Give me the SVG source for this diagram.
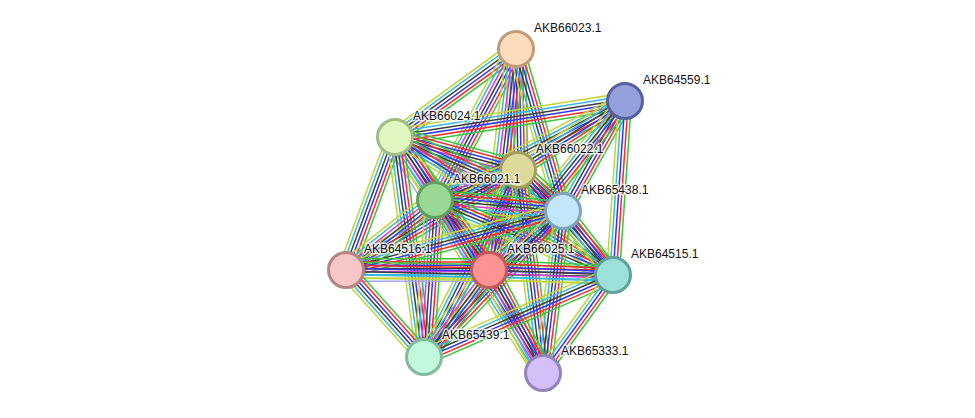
<svg xmlns="http://www.w3.org/2000/svg" xmlns:xlink="http://www.w3.org/1999/xlink" width="975" height="418" viewBox="0 0 975 418">
  <style>
    .e line { stroke-width: 1.5; fill: none; }
    .gr { stroke: #3cc43c; }
    .rd { stroke: #f52a2a; }
    .bl { stroke: #3434f5; }
    .bk { stroke: #3e3e3e; }
    .mg { stroke: #d23cd2; }
    .cy { stroke: #38b6e2; }
    .yg { stroke: #c0d636; }
    .lv { stroke: #a6a6f6; }
    .node circle { stroke-width: 3; }
    .node text { font-family: "Liberation Sans", Arial, sans-serif; font-size: 12px; fill: #111; stroke: #fff; stroke-width: 3; stroke-opacity: 0.75; paint-order: stroke; stroke-linejoin: round; }
  </style>
  <defs>
    <!-- unit-length evidence bundles, stretched along each edge -->
    <g id="b5" class="e">
      <line class="gr" x1="0" y1="-6.4" x2="1" y2="-6.4"/>
      <line class="rd" x1="0" y1="-3.2" x2="1" y2="-3.2"/>
      <line class="bl" x1="0" y1="0" x2="1" y2="0"/>
      <line class="cy" x1="0" y1="3.2" x2="1" y2="3.2"/>
      <line class="yg" x1="0" y1="6.4" x2="1" y2="6.4"/>
    </g>
    <g id="b6" class="e">
      <line class="gr" x1="0" y1="-8" x2="1" y2="-8"/>
      <line class="rd" x1="0" y1="-4.8" x2="1" y2="-4.8"/>
      <line class="bl" x1="0" y1="-1.6" x2="1" y2="-1.6"/>
      <line class="bk" x1="0" y1="1.6" x2="1" y2="1.6"/>
      <line class="cy" x1="0" y1="4.8" x2="1" y2="4.8"/>
      <line class="yg" x1="0" y1="8" x2="1" y2="8"/>
    </g>
    <g id="b7" class="e">
      <line class="gr" x1="0" y1="-9.6" x2="1" y2="-9.6"/>
      <line class="rd" x1="0" y1="-6.4" x2="1" y2="-6.4"/>
      <line class="bl" x1="0" y1="-3.2" x2="1" y2="-3.2"/>
      <line class="bk" x1="0" y1="0" x2="1" y2="0"/>
      <line class="mg" x1="0" y1="3.2" x2="1" y2="3.2"/>
      <line class="cy" x1="0" y1="6.4" x2="1" y2="6.4"/>
      <line class="yg" x1="0" y1="9.6" x2="1" y2="9.6"/>
    </g>
    <g id="b8" class="e">
      <line class="gr" x1="0" y1="-11.2" x2="1" y2="-11.2"/>
      <line class="rd" x1="0" y1="-8" x2="1" y2="-8"/>
      <line class="bl" x1="0" y1="-4.8" x2="1" y2="-4.8"/>
      <line class="bk" x1="0" y1="-1.6" x2="1" y2="-1.6"/>
      <line class="mg" x1="0" y1="1.6" x2="1" y2="1.6"/>
      <line class="cy" x1="0" y1="4.8" x2="1" y2="4.8"/>
      <line class="yg" x1="0" y1="8" x2="1" y2="8"/>
      <line class="lv" x1="0" y1="11.2" x2="1" y2="11.2"/>
    </g>
  </defs>
  <rect width="975" height="418" fill="#fff"/>

  <g id="edges">
    <use href="#b6" transform="translate(516 49) rotate(143.97) scale(149.6 1)"/>
    <use href="#b7" transform="translate(516 49) rotate(118.21) scale(171.4 1)"/>
    <use href="#b7" transform="translate(516 49) rotate(89.05) scale(121 1)"/>
    <use href="#b7" transform="translate(516 49) rotate(96.97) scale(222.6 1)"/>
    <use href="#b6" transform="translate(516 49) rotate(73.82) scale(168.7 1)"/>
    <use href="#b6" transform="translate(625 101) rotate(171.10) scale(232.8 1)"/>
    <use href="#b6" transform="translate(625 101) rotate(152.48) scale(214.2 1)"/>
    <use href="#b6" transform="translate(625 101) rotate(147.18) scale(127.3 1)"/>
    <use href="#b6" transform="translate(625 101) rotate(119.41) scale(126.3 1)"/>
    <use href="#b6" transform="translate(625 101) rotate(128.83) scale(216.9 1)"/>
    <use href="#b5" transform="translate(625 101) rotate(93.95) scale(174.4 1)"/>
    <use href="#b7" transform="translate(395 137) rotate(15.02) scale(127.3 1)"/>
    <use href="#b8" transform="translate(395 137) rotate(57.59) scale(74.6 1)"/>
    <use href="#b7" transform="translate(395 137) rotate(23.77) scale(183.6 1)"/>
    <use href="#b6" transform="translate(395 137) rotate(110.22) scale(141.7 1)"/>
    <use href="#b7" transform="translate(395 137) rotate(54.75) scale(162.9 1)"/>
    <use href="#b6" transform="translate(395 137) rotate(82.49) scale(221.9 1)"/>
    <use href="#b5" transform="translate(395 137) rotate(32.33) scale(258 1)"/>
    <use href="#b7" transform="translate(518 170) rotate(160.13) scale(88.3 1)"/>
    <use href="#b7" transform="translate(518 170) rotate(42.34) scale(60.9 1)"/>
    <use href="#b7" transform="translate(518 170) rotate(106.17) scale(104.1 1)"/>
    <use href="#b6" transform="translate(518 170) rotate(149.83) scale(199 1)"/>
    <use href="#b6" transform="translate(518 170) rotate(47.86) scale(141.6 1)"/>
    <use href="#b6" transform="translate(518 170) rotate(116.69) scale(209.3 1)"/>
    <use href="#b6" transform="translate(518 170) rotate(82.94) scale(203.5 1)"/>
    <use href="#b7" transform="translate(435 200) rotate(4.91) scale(128.5 1)"/>
    <use href="#b8" transform="translate(435 200) rotate(52.35) scale(88.4 1)"/>
    <use href="#b7" transform="translate(435 200) rotate(141.81) scale(113.2 1)"/>
    <use href="#b6" transform="translate(435 200) rotate(22.85) scale(193.2 1)"/>
    <use href="#b7" transform="translate(435 200) rotate(94.01) scale(157.4 1)"/>
    <use href="#b7" transform="translate(435 200) rotate(57.87) scale(203.1 1)"/>
    <use href="#b7" transform="translate(563 211) rotate(141.43) scale(94.6 1)"/>
    <use href="#b6" transform="translate(563 211) rotate(164.79) scale(224.9 1)"/>
    <use href="#b6" transform="translate(563 211) rotate(52.0) scale(81.2 1)"/>
    <use href="#b6" transform="translate(563 211) rotate(133.60) scale(201.6 1)"/>
    <use href="#b6" transform="translate(563 211) rotate(97.08) scale(162.2 1)"/>
    <use href="#b8" transform="translate(346 270) rotate(0) scale(143 1)"/>
    <use href="#b6" transform="translate(346 270) rotate(1.07) scale(267 1)"/>
    <use href="#b6" transform="translate(346 270) rotate(48.12) scale(116.8 1)"/>
    <use href="#b7" transform="translate(489 270) rotate(2.31) scale(124.1 1)"/>
    <use href="#b7" transform="translate(489 270) rotate(126.77) scale(108.6 1)"/>
    <use href="#b7" transform="translate(489 270) rotate(62.10) scale(115.4 1)"/>
    <use href="#b6" transform="translate(613 275) rotate(156.54) scale(206 1)"/>
    <use href="#b5" transform="translate(613 275) rotate(125.82) scale(119.6 1)"/>
  </g>

  <g id="AKB66023.1" class="node">
    <circle cx="516" cy="49" r="17.5" fill="#fddcbc" stroke="#c09c7c"/>
    <text x="534" y="32">AKB66023.1</text>
  </g>
  <g id="AKB64559.1" class="node">
    <circle cx="625" cy="101" r="17.5" fill="#96a0dc" stroke="#56629f"/>
    <text x="643" y="84">AKB64559.1</text>
  </g>
  <g id="AKB66024.1" class="node">
    <circle cx="395" cy="137" r="17.5" fill="#e0f8c0" stroke="#a0be82"/>
    <text x="413" y="120">AKB66024.1</text>
  </g>
  <g id="AKB66022.1" class="node">
    <circle cx="518" cy="170" r="17.5" fill="#dcd99a" stroke="#a09f5e"/>
    <text x="536" y="153">AKB66022.1</text>
  </g>
  <g id="AKB66021.1" class="node">
    <circle cx="435" cy="200" r="17.5" fill="#9ad993" stroke="#60a05a"/>
    <text x="453" y="183">AKB66021.1</text>
  </g>
  <g id="AKB65438.1" class="node">
    <circle cx="563" cy="211" r="17.5" fill="#c2e6fa" stroke="#80a4b9"/>
    <text x="581" y="194">AKB65438.1</text>
  </g>
  <g id="AKB64516.1" class="node">
    <circle cx="346" cy="270" r="17.5" fill="#f7c7c7" stroke="#b88585"/>
    <text x="364" y="253">AKB64516.1</text>
  </g>
  <g id="AKB66025.1" class="node">
    <circle cx="489" cy="270" r="17.5" fill="#ff9393" stroke="#c05c5c"/>
    <text x="507" y="253">AKB66025.1</text>
  </g>
  <g id="AKB64515.1" class="node">
    <circle cx="613" cy="275" r="17.5" fill="#9ddfd9" stroke="#5fa19b"/>
    <text x="631" y="258">AKB64515.1</text>
  </g>
  <g id="AKB65439.1" class="node">
    <circle cx="424" cy="357" r="17.5" fill="#c2f9dc" stroke="#80bd9d"/>
    <text x="442" y="339">AKB65439.1</text>
  </g>
  <g id="AKB65333.1" class="node">
    <circle cx="543" cy="373" r="17.5" fill="#d3c0f7" stroke="#9482bd"/>
    <text x="561" y="355">AKB65333.1</text>
  </g>
</svg>
